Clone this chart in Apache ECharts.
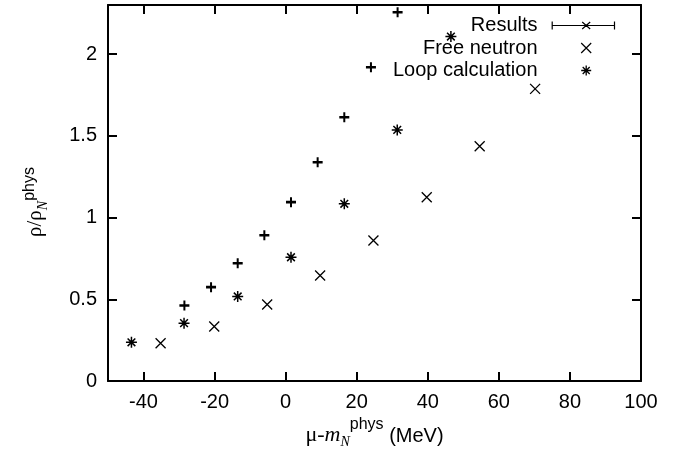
<!DOCTYPE html>
<html>
<head>
<meta charset="utf-8">
<script src="https://cdn.jsdelivr.net/npm/echarts@6/dist/echarts.min.js"></script>
<style>html,body{margin:0;padding:0;background:#fff;}#c{width:685px;height:455px;}</style>
</head>
<body>
<div id="c"></div>
<script>
// ---- data ----
var resultsX = [-28.5, -21, -13.5, -6, 1.5, 9, 16.5, 24, 31.5];
var resultsY = [0.462, 0.574, 0.720, 0.892, 1.094, 1.338, 1.613, 1.919, 2.256];
var freeX = [-35.2, -20.1, -5.2, 9.7, 24.7, 39.7, 54.6, 70.2];
var freeY = [0.231, 0.333, 0.468, 0.645, 0.859, 1.124, 1.436, 1.787];
var loopX = [-43.4, -28.6, -13.5, 1.5, 16.5, 31.4, 46.5];
var loopY = [0.237, 0.354, 0.517, 0.757, 1.084, 1.536, 2.107];
var xTicks = [-40, -20, 0, 20, 40, 60, 80, 100];
var yTicks = [0, 0.5, 1, 1.5, 2];
var seriesNames = ['Results', 'Free neutron', 'Loop calculation'];

function pairs(xs, ys) { return xs.map(function (x, i) { return [x, ys[i]]; }); }

var SANS = '"Liberation Sans", Arial, Helvetica, sans-serif';
var SERIF = '"Liberation Serif", "Times New Roman", serif';

var plusPath = 'path://M0,3.7 L10,3.7 L10,6.3 L0,6.3 Z M4,0 L6,0 L6,10 L4,10 Z';
var crossPath = 'path://M0,0 L10,10 M10,0 L0,10';
var starPath = 'path://M0,5 L10,5 M5,0 L5,10 M1.5,1.5 L8.5,8.5 M8.5,1.5 L1.5,8.5';

// legend icons share a common 78x12 box so that all texts right-align identically
var legResults = 'path://M0,0 L0,0 M78,12 L78,12 M9.7,6 L72,6 M9.7,2 L9.7,10 M72,2 L72,10 M39.7,2.5 L47.7,9.5 M47.7,2.5 L39.7,9.5';
var legCross = 'path://M0,0 L0,0 M78,12 L78,12 M38.7,1 L48.7,11 M48.7,1 L38.7,11';
var legStar = 'path://M0,0 L0,0 M78,12 L78,12 M38.7,6 L48.7,6 M43.7,1 L43.7,11 M40.2,2.5 L47.2,9.5 M47.2,2.5 L40.2,9.5';

var axisCommon = {
  type: 'value',
  splitLine: { show: false },
  axisLine: { show: true, onZero: false, lineStyle: { color: '#000', width: 2 } },
  axisTick: { show: true, inside: true, length: 9, lineStyle: { color: '#000', width: 2 } }
};

function xAxisDef(pos, showLabel) {
  var a = JSON.parse(JSON.stringify(axisCommon));
  a.position = pos; a.min = -50; a.max = 100;
  a.axisTick.customValues = xTicks;
  a.axisLabel = { show: showLabel, customValues: xTicks, margin: 11, color: '#000', fontSize: 20, fontFamily: SANS, hideOverlap: false };
  return a;
}
function yAxisDef(pos, showLabel) {
  var a = JSON.parse(JSON.stringify(axisCommon));
  a.position = pos; a.min = 0; a.max = 2.3;
  a.axisTick.customValues = yTicks;
  a.axisLabel = { show: showLabel, customValues: yTicks, margin: 11, color: '#000', fontSize: 20, fontFamily: SANS, hideOverlap: false };
  return a;
}

var xMain = xAxisDef('bottom', true);
xMain.name = '{s|μ-}{i|m}{sub|N}{sup|phys}{t| (MeV)}';
xMain.nameLocation = 'middle';
xMain.nameGap = 36;
xMain.nameTextStyle = {
  color: '#000',
  rich: {
    s: { fontFamily: SERIF, fontSize: 22, color: '#000', verticalAlign: 'bottom', padding: [0, 0, 4, 0] },
    i: { fontFamily: SERIF, fontStyle: 'italic', fontSize: 22, color: '#000', verticalAlign: 'bottom', padding: [0, 0, 4, 0] },
    sub: { fontFamily: SERIF, fontStyle: 'italic', fontSize: 14, color: '#000', verticalAlign: 'bottom', padding: [0, 0, 1, 0] },
    sup: { fontFamily: SANS, fontSize: 16, color: '#000', verticalAlign: 'bottom', padding: [0, 0, 17, 0] },
    t: { fontFamily: SANS, fontSize: 20, color: '#000', verticalAlign: 'bottom', padding: [0, 0, 4, 0] }
  }
};

var yMain = yAxisDef('left', true);
yMain.name = '{r|ρ/ρ}{n|N}{p|phys}';
yMain.nameLocation = 'middle';
yMain.nameRotate = 90;
yMain.nameGap = 58;
yMain.nameTextStyle = {
  color: '#000',
  padding: [0, 18, 0, 0],
  rich: {
    r: { fontFamily: SERIF, fontSize: 21, color: '#000', verticalAlign: 'bottom', padding: [0, 0, 4, 0] },
    n: { fontFamily: SERIF, fontStyle: 'italic', fontSize: 14, color: '#000', verticalAlign: 'bottom', padding: [0, 0, 0, 0] },
    p: { fontFamily: SANS, fontSize: 16, color: '#000', verticalAlign: 'bottom', padding: [0, 0, 12, 0] }
  }
};

var option = {
  animation: false,
  backgroundColor: '#fff',
  grid: { left: 108, right: 44, top: 5, bottom: 74, containLabel: false, outerBoundsMode: 'none' },
  xAxis: [xMain, xAxisDef('top', false)],
  yAxis: [yMain, yAxisDef('right', false)],
  legend: {
    orient: 'vertical',
    right: 62,
    top: 14.5,
    padding: 0,
    itemGap: 0.5,
    itemWidth: 78,
    itemHeight: 12,
    align: 'right',
    selectedMode: false,
    textStyle: { fontFamily: SANS, fontSize: 20, color: '#000', lineHeight: 22 },
    data: [
      { name: seriesNames[0], icon: legResults, itemStyle: { color: 'none', borderColor: '#000', borderWidth: 1.2 } },
      { name: seriesNames[1], icon: legCross, itemStyle: { color: 'none', borderColor: '#000', borderWidth: 1.2 } },
      { name: seriesNames[2], icon: legStar, itemStyle: { color: 'none', borderColor: '#000', borderWidth: 1.3 } }
    ]
  },
  series: [
    {
      name: seriesNames[0], type: 'scatter', data: pairs(resultsX, resultsY),
      symbol: plusPath, symbolSize: [10, 10],
      itemStyle: { color: '#000', borderWidth: 0, opacity: 1 },
      emphasis: { disabled: true }
    },
    {
      name: seriesNames[1], type: 'scatter', data: pairs(freeX, freeY),
      symbol: crossPath, symbolSize: [10, 10],
      itemStyle: { color: 'none', borderColor: '#000', borderWidth: 1.3, opacity: 1 },
      emphasis: { disabled: true }
    },
    {
      name: seriesNames[2], type: 'scatter', data: pairs(loopX, loopY),
      symbol: starPath, symbolSize: [11, 11],
      itemStyle: { color: 'none', borderColor: '#000', borderWidth: 1.5, opacity: 1 },
      emphasis: { disabled: true }
    }
  ]
};

var chart = echarts.init(document.getElementById('c'), null, { renderer: 'canvas' });
chart.setOption(option);
</script>
</body>
</html>
